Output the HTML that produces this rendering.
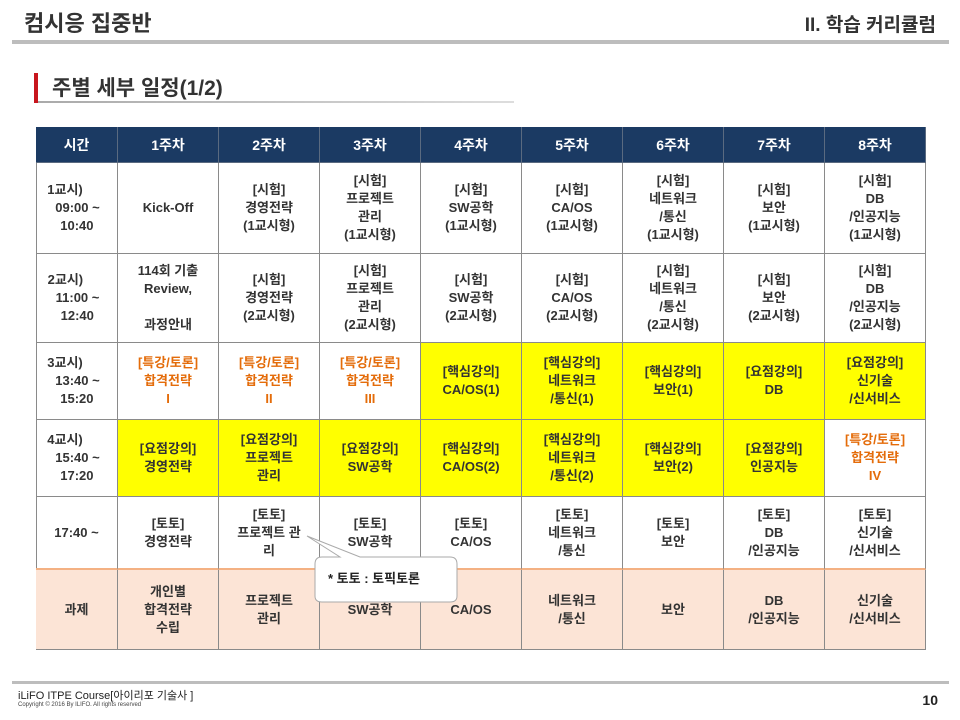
<!DOCTYPE html>
<html><head><meta charset="utf-8"><style>
body{margin:0;width:960px;height:720px;background:#fff;position:relative;overflow:hidden;font-family:"Liberation Sans","Noto Sans CJK KR",sans-serif;}
.a{position:absolute}
.c{position:absolute;box-sizing:border-box;display:flex;align-items:center;justify-content:center;text-align:center;font-size:13px;font-weight:bold;line-height:18px;color:#333;border-right:1px solid #8a8a8a;border-bottom:1px solid #8a8a8a;}
.h{background:#1b3a63;color:#fff;font-size:14px;border-color:#5a6a80}
.y{background:#ffff00}
.o{color:#e46c0a}
.p{background:#fce4d6}
.t{text-align:left;margin-left:-6px}
.t span{display:block}
</style></head><body>
<div class="a" style="left:24px;top:6px;font-size:22px;color:#333;font-weight:bold;">컴시응 집중반</div>
<div class="a" style="right:24px;top:10px;font-size:19px;color:#333;font-weight:bold;">II. 학습 커리큘럼</div>
<div class="a" style="left:12px;top:40px;width:937px;height:4px;background:#bdbdbd"></div>
<div class="a" style="left:34px;top:73px;width:4px;height:30px;background:#c8161d"></div>
<div class="a" style="left:52px;top:72px;font-size:21px;color:#333;font-weight:bold;">주별 세부 일정(1/2)</div>
<div class="a" style="left:38px;top:101px;width:476px;height:2px;background:linear-gradient(90deg,#aaa,#ddd)"></div>
<div class="a" style="left:36px;top:127px;width:890px;height:523px;border-left:1px solid #8a8a8a;border-top:1px solid #8a8a8a;box-sizing:border-box"></div>
<div id="g"></div>
<div class="a" style="left:12px;top:681px;width:937px;height:3px;background:#bdbdbd"></div>
<div class="a" style="left:18px;top:687px;font-size:11px;color:#222;">iLiFO ITPE Course[아이리포 기술사 ]</div>
<div class="a" style="left:18px;top:702px;font-size:6px;color:#444;">Copyright © 2016 By ILIFO. All rights reserved</div>
<div class="a" style="right:22px;top:692px;font-size:14px;font-weight:bold;color:#222;">10</div>
<svg class="a" style="left:0;top:0" width="960" height="720">
<path d="M322,557 L340,557 L307,536 L360,557 L450,557 Q457,557 457,564 L457,596 Q457,602 450,602 L322,602 Q315,602 315,596 L315,564 Q315,557 322,557 Z" fill="#fff" stroke="#aaa" stroke-width="1"/>
<text x="328" y="583" font-size="13" font-weight="bold" fill="#222" font-family="Liberation Sans, Noto Sans CJK KR, sans-serif">* 토토 : 토픽토론</text>
</svg>
<script>
var xs=[36,118,219,320,421,522,623,724,825,926],ys=[127,163,254,343,420,497,570,650];
var d=[
["h","시간","1주차","2주차","3주차","4주차","5주차","6주차","7주차","8주차"],
["","T1교시)|09:00 ~|10:40","Kick-Off","[시험]<br>경영전략<br>(1교시형)","[시험]<br>프로젝트<br>관리<br>(1교시형)","[시험]<br>SW공학<br>(1교시형)","[시험]<br>CA/OS<br>(1교시형)","[시험]<br>네트워크<br>/통신<br>(1교시형)","[시험]<br>보안<br>(1교시형)","[시험]<br>DB<br>/인공지능<br>(1교시형)"],
["","T2교시)|11:00 ~|12:40","114회 기출<br>Review,<br><br>과정안내","[시험]<br>경영전략<br>(2교시형)","[시험]<br>프로젝트<br>관리<br>(2교시형)","[시험]<br>SW공학<br>(2교시형)","[시험]<br>CA/OS<br>(2교시형)","[시험]<br>네트워크<br>/통신<br>(2교시형)","[시험]<br>보안<br>(2교시형)","[시험]<br>DB<br>/인공지능<br>(2교시형)"],
["","T3교시)|13:40 ~|15:20","o[특강/토론]<br>합격전략<br>I","o[특강/토론]<br>합격전략<br>II","o[특강/토론]<br>합격전략<br>III","y[핵심강의]<br>CA/OS(1)","y[핵심강의]<br>네트워크<br>/통신(1)","y[핵심강의]<br>보안(1)","y[요점강의]<br>DB","y[요점강의]<br>신기술<br>/신서비스"],
["","T4교시)|15:40 ~|17:20","y[요점강의]<br>경영전략","y[요점강의]<br>프로젝트<br>관리","y[요점강의]<br>SW공학","y[핵심강의]<br>CA/OS(2)","y[핵심강의]<br>네트워크<br>/통신(2)","y[핵심강의]<br>보안(2)","y[요점강의]<br>인공지능","o[특강/토론]<br>합격전략<br>IV"],
["","17:40 ~","[토토]<br>경영전략","[토토]<br>프로젝트 관<br>리","[토토]<br>SW공학","[토토]<br>CA/OS","[토토]<br>네트워크<br>/통신","[토토]<br>보안","[토토]<br>DB<br>/인공지능","[토토]<br>신기술<br>/신서비스"],
["p","과제","개인별<br>합격전략<br>수립","프로젝트<br>관리","SW공학","CA/OS","네트워크<br>/통신","보안","DB<br>/인공지능","신기술<br>/신서비스"]];
var h="";
for(var r=0;r<7;r++){for(var c=0;c<9;c++){var s=d[r][c+1],cl="c "+d[r][0];
if(s[0]=="o"||s[0]=="y"){cl+=" "+s[0];s=s.slice(1);}
var isT=false;
if(s[0]=="T"){var p=s.slice(1).split("|");s='<div class="t"><span>'+p[0]+'</span><span style="padding-left:8px">'+p[1]+'</span><span style="padding-left:13px">'+p[2]+'</span></div>';isT=true;}
var st="left:"+xs[c]+"px;top:"+ys[r]+"px;width:"+(xs[c+1]-xs[c])+"px;height:"+(ys[r+1]-ys[r])+"px;";
if(r==5)st+="border-bottom:2px solid #f4b183;";
h+='<div class="'+cl+'" style="'+st+'">'+(isT?s:'<div>'+s+'</div>')+'</div>';}}
document.getElementById("g").innerHTML=h;
</script>
</body></html>
